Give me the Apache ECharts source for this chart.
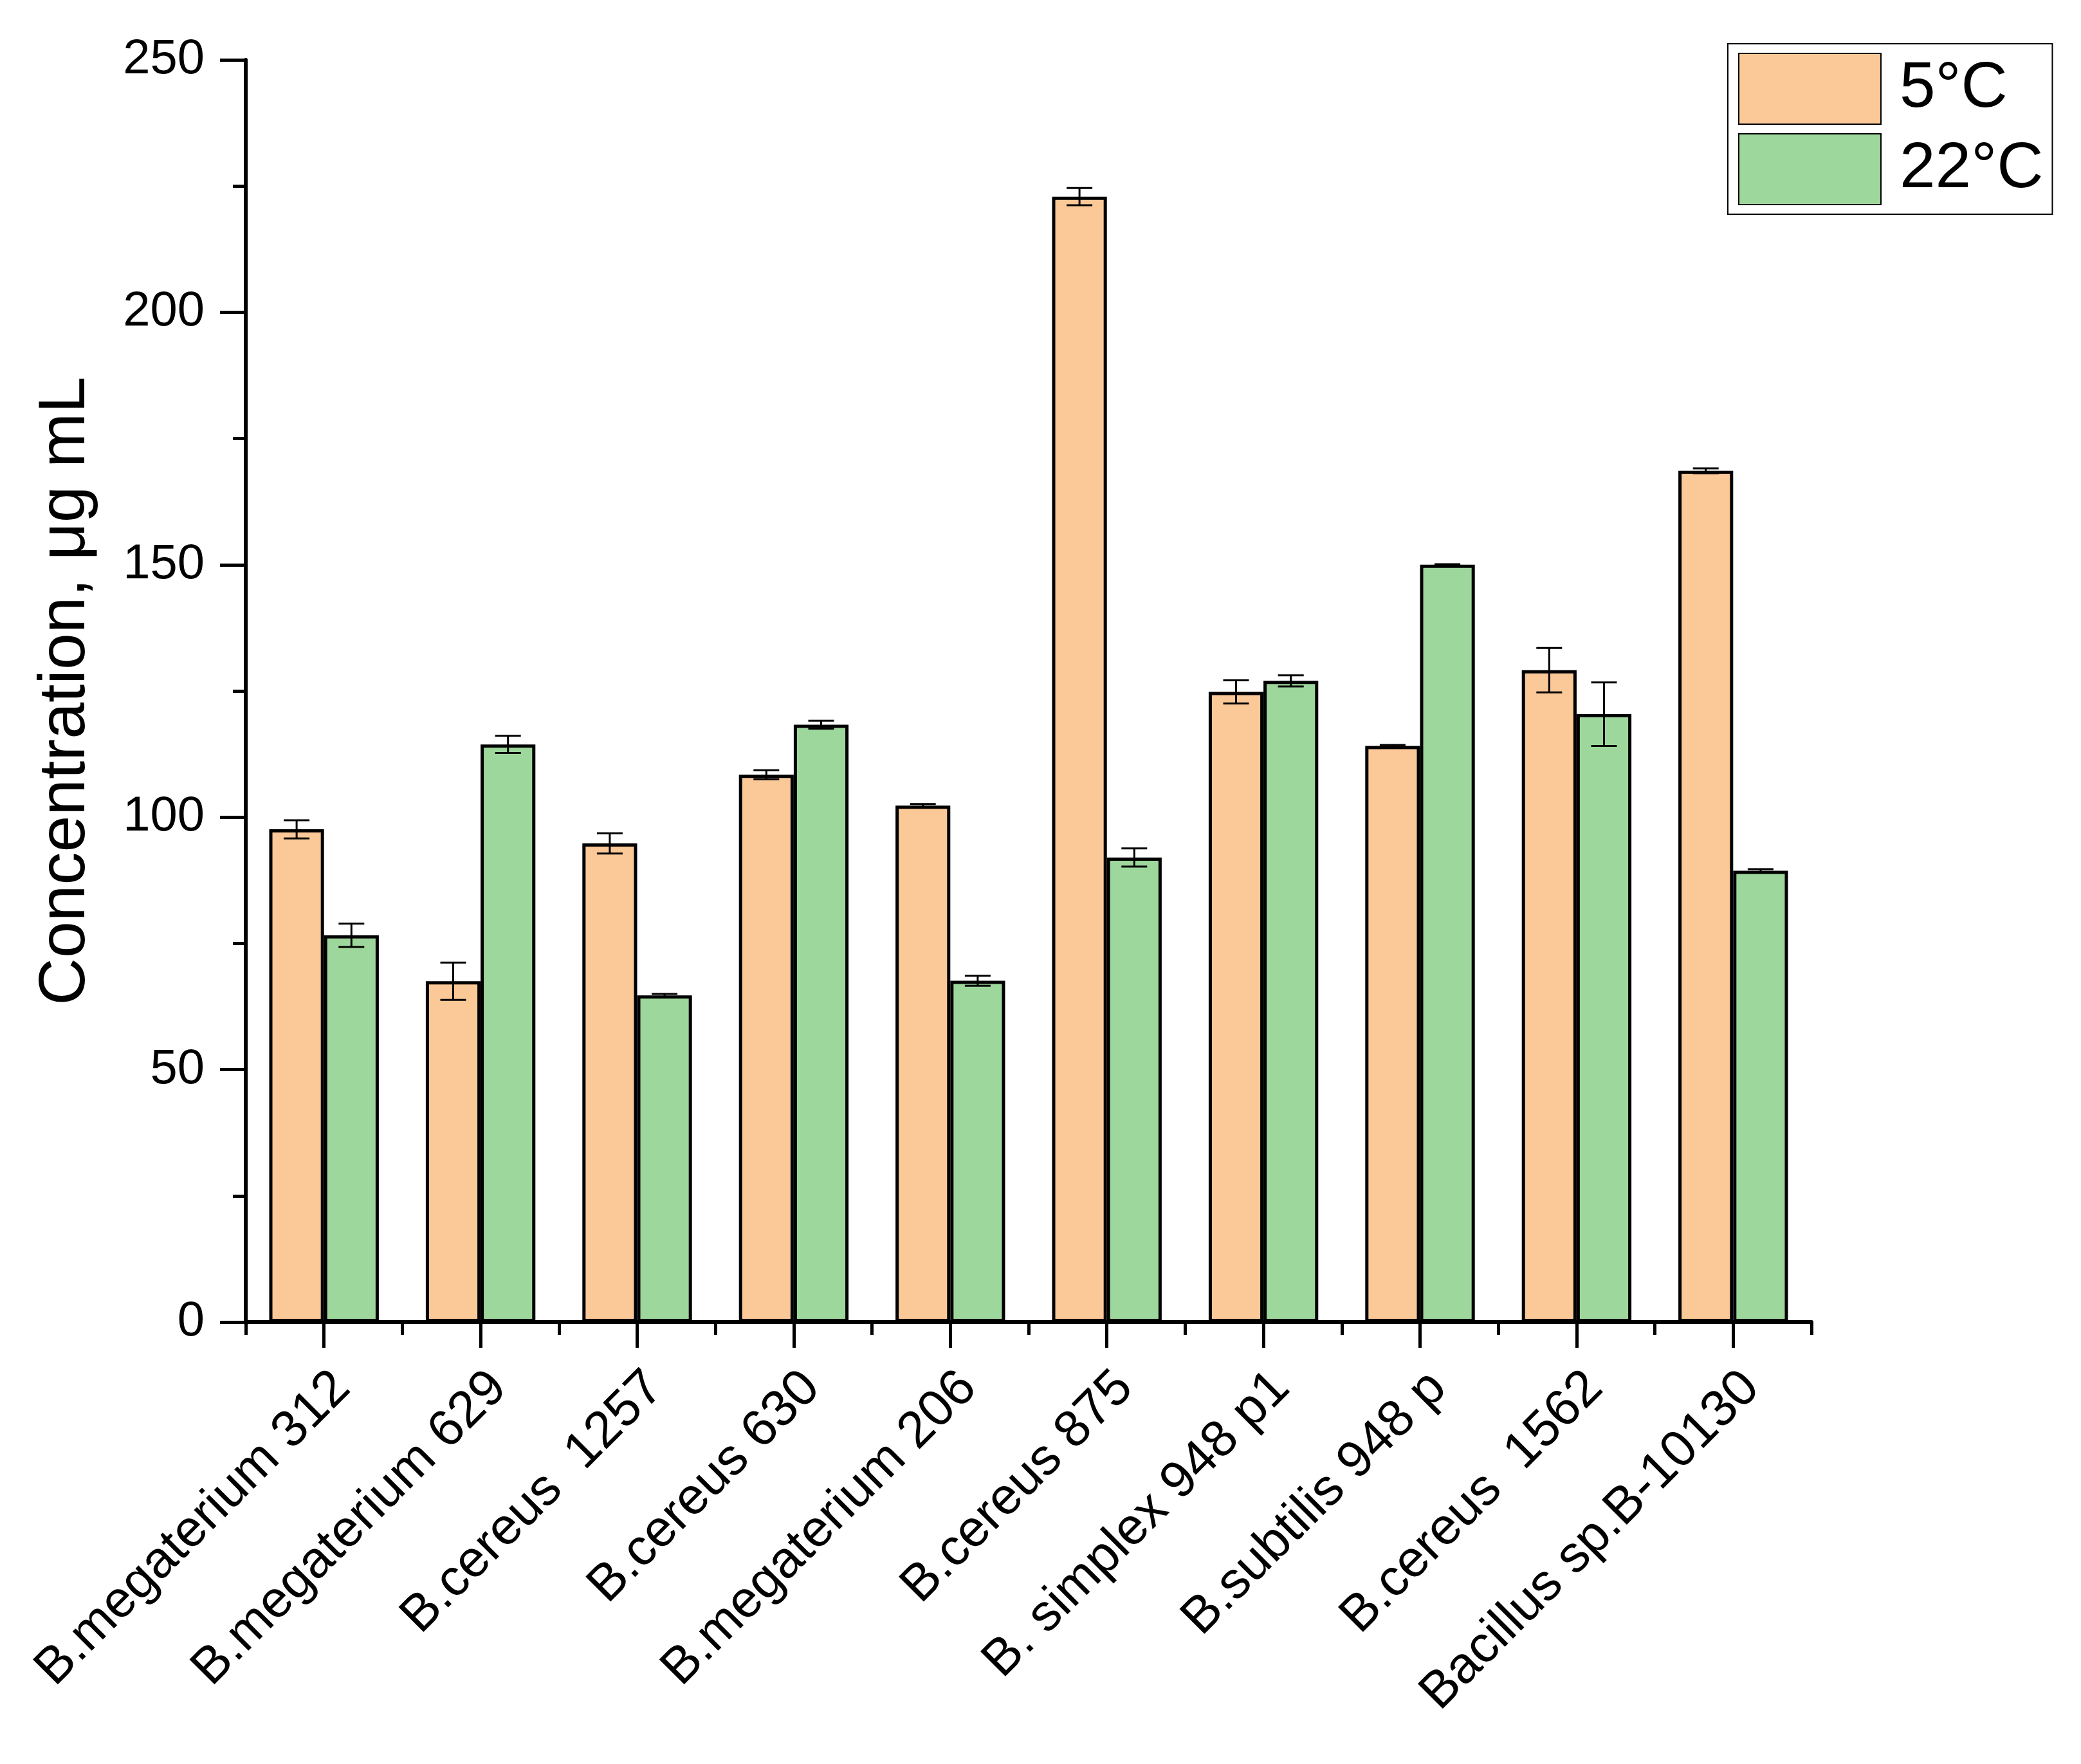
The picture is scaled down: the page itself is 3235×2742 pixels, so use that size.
<!DOCTYPE html>
<html>
<head>
<meta charset="utf-8">
<script src="https://cdn.jsdelivr.net/npm/echarts@6/dist/echarts.min.js"></script>
<style>
html,body{margin:0;padding:0;background:#fff;}
#chart{width:3235px;height:2742px;}
</style>
</head>
<body>
<div id="chart"></div>
<script>
var categories = ["B.megaterium 312", "B.megaterium 629", "B.cereus  1257", "B.cereus 630", "B.megaterium 206",
  "B.cereus 875", "B. simplex 948 p1", "B.subtilis 948 p", "B.cereus  1562", "Bacillus sp.B-10130"];
var seriesNames = ["5°C", "22°C"];
var val5  = [97.6, 67.5, 94.8, 108.4, 102.3, 222.9, 124.8, 114.1, 129.1, 168.6];
var err5  = [1.8, 3.7, 2.0, 0.9, 0.3, 1.7, 2.3, 0.2, 4.4, 0.5];
var val22 = [76.6, 114.4, 64.7, 118.3, 67.6, 92.0, 127.0, 150.0, 120.4, 89.4];
var err22 = [2.3, 1.7, 0.3, 0.8, 1.0, 1.8, 1.1, 0.1, 6.3, 0.3];
var yTicks = [0, 50, 100, 150, 200, 250];

var FONT = "'Liberation Sans', Arial, sans-serif";
var CAT_GAP = 0.30;
var CAP = 40;

function errData(vals, errs) {
  return vals.map(function (v, i) { return [i, v - errs[i], v + errs[i]]; });
}
function errSeries(idx, vals, errs) {
  return {
    type: 'custom',
    xAxisIndex: 0, yAxisIndex: 0,
    z: 10,
    silent: true,
    renderItem: function (params, api) {
      var x = api.value(0), lo = api.value(1), hi = api.value(2);
      var band = api.size([1, 0])[0];
      var bw = band * (1 - CAT_GAP) / 2;
      var off = idx === 0 ? -bw / 2 : bw / 2;
      var pHi = api.coord([x, hi]);
      var pLo = api.coord([x, lo]);
      var cx = pHi[0] + off, h = CAP / 2;
      var st = { stroke: '#000', lineWidth: 3 };
      return { type: 'group', children: [
        { type: 'line', shape: { x1: cx, y1: pHi[1], x2: cx, y2: pLo[1] }, style: st },
        { type: 'line', shape: { x1: cx - h, y1: pHi[1], x2: cx + h, y2: pHi[1] }, style: st },
        { type: 'line', shape: { x1: cx - h, y1: pLo[1], x2: cx + h, y2: pLo[1] }, style: st }
      ]};
    },
    data: errData(vals, errs)
  };
}

var chart = echarts.init(document.getElementById('chart'), null, { renderer: 'canvas' });
chart.setOption({
  backgroundColor: '#fff',
  animation: false,
  textStyle: { fontFamily: FONT, color: '#000' },
  grid: { left: 382, right: 419, top: 93, bottom: 687, containLabel: false },
  legend: {
    data: seriesNames,
    orient: 'vertical',
    left: 2686, top: 68,
    itemWidth: 221, itemHeight: 110, itemGap: 13,
    padding: [14, 14, 14, 16],
    borderColor: '#000', borderWidth: 2,
    icon: 'rect',
    textStyle: { fontFamily: FONT, fontSize: 100, color: '#000', padding: [0, 0, 0, 24] }
  },
  xAxis: [{
    type: 'category',
    data: categories,
    position: 'bottom',
    axisLine: { show: true, lineStyle: { color: '#000', width: 6 } },
    axisTick: { show: true, alignWithLabel: true, inside: false, length: 40, lineStyle: { color: '#000', width: 5 } },
    axisLabel: { show: true, rotate: 45, interval: 0, fontSize: 80, fontFamily: FONT, color: '#000',
      margin: 62, verticalAlign: 'top' },
    splitLine: { show: false }
  }, {
    type: 'category',
    data: categories,
    position: 'bottom',
    axisLine: { show: false },
    axisTick: { show: true, alignWithLabel: false, inside: false, length: 20, lineStyle: { color: '#000', width: 5 } },
    axisLabel: { show: false },
    splitLine: { show: false }
  }],
  yAxis: {
    type: 'value',
    min: 0, max: 250, interval: 50,
    name: 'Concentration, μg mL',
    nameLocation: 'middle',
    nameGap: 228,
    nameTextStyle: { fontSize: 102, fontFamily: FONT, color: '#000' },
    axisLine: { show: true, lineStyle: { color: '#000', width: 6 } },
    axisTick: { show: true, inside: false, length: 40, lineStyle: { color: '#000', width: 5 } },
    minorTick: { show: true, splitNumber: 2, length: 20, lineStyle: { color: '#000', width: 5 } },
    axisLabel: { fontSize: 76, fontFamily: FONT, color: '#000', margin: 64,
      formatter: function (v) { return yTicks.indexOf(v) >= 0 ? String(v) : ''; } },
    splitLine: { show: false }
  },
  series: [{
    name: seriesNames[0],
    type: 'bar',
    barGap: '0%',
    barCategoryGap: (CAT_GAP * 100) + '%',
    itemStyle: { color: '#FBC898', borderColor: '#000', borderWidth: 5 },
    data: val5
  }, {
    name: seriesNames[1],
    type: 'bar',
    barGap: '0%',
    barCategoryGap: (CAT_GAP * 100) + '%',
    itemStyle: { color: '#9ED79C', borderColor: '#000', borderWidth: 5 },
    data: val22
  },
  errSeries(0, val5, err5),
  errSeries(1, val22, err22)]
});
</script>
</body>
</html>
